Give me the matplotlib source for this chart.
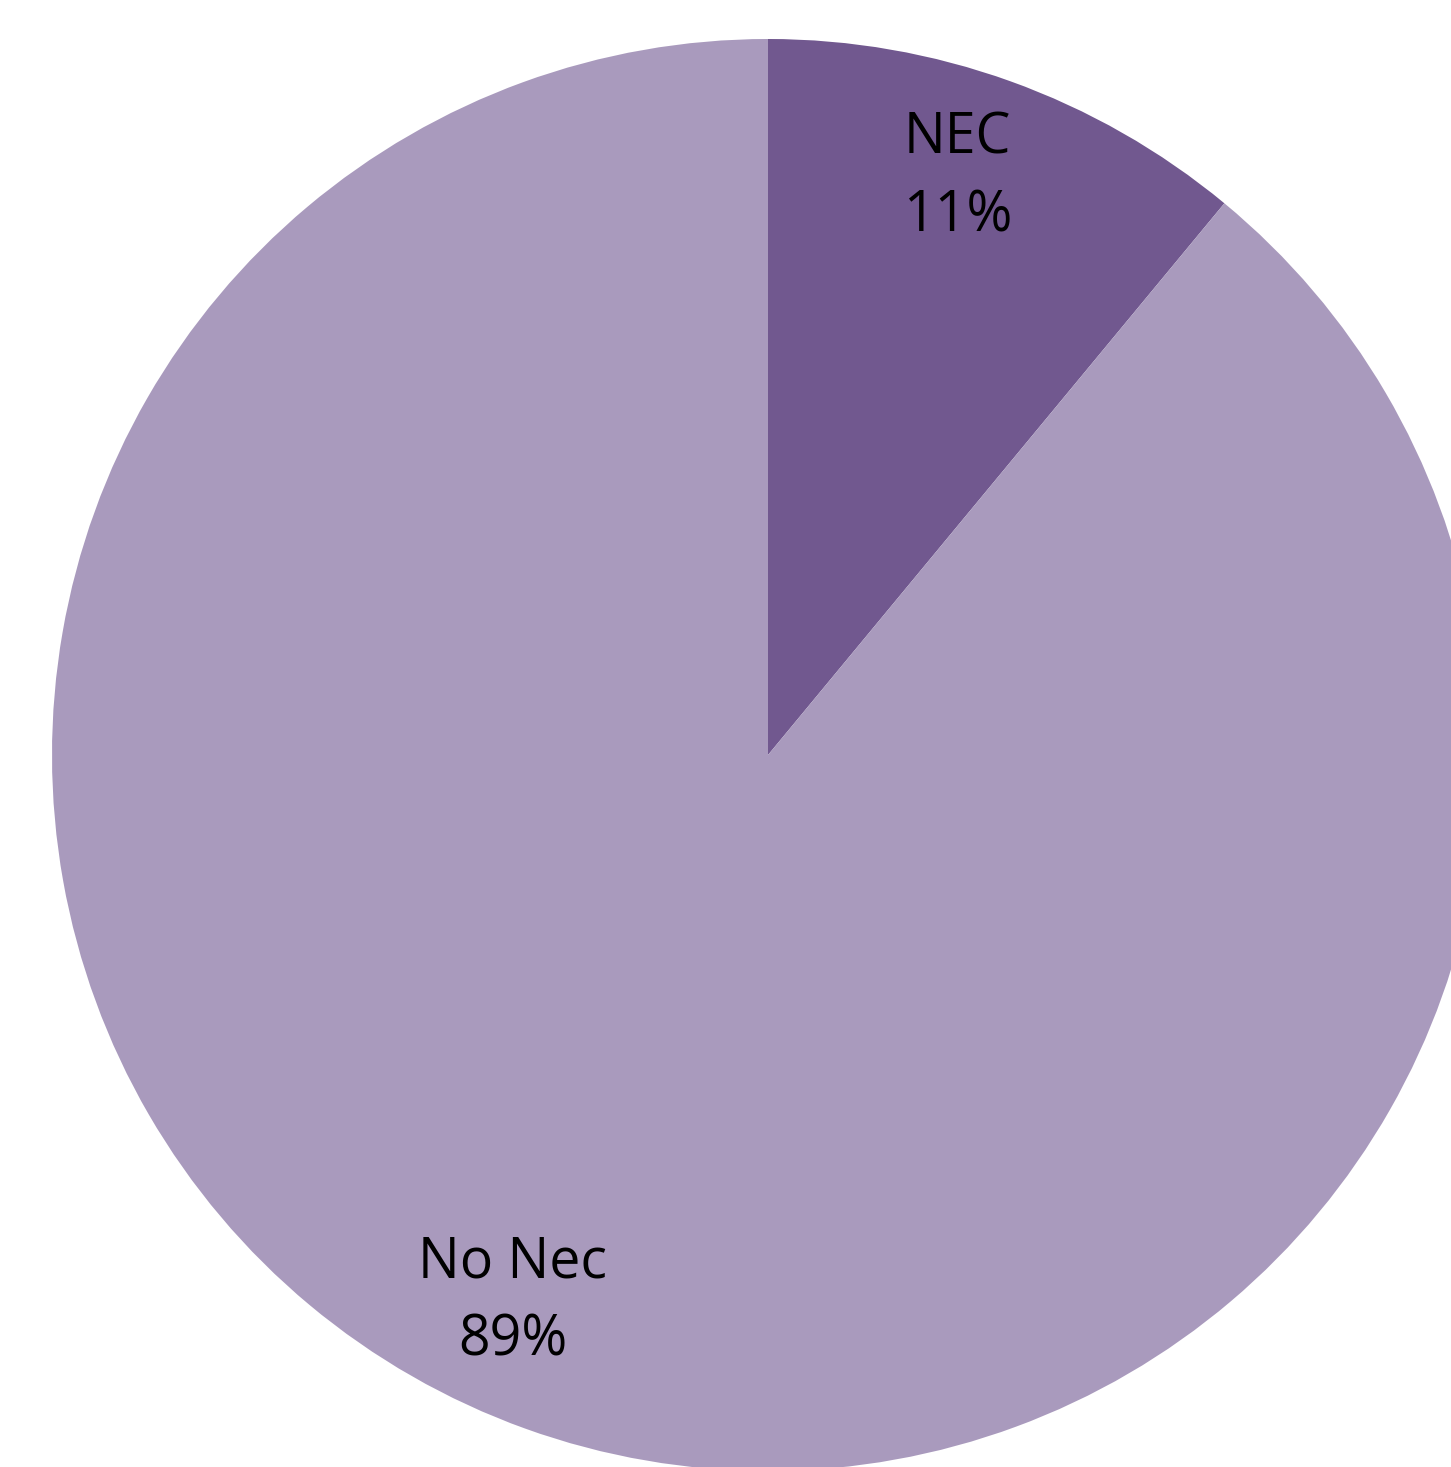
import numpy as np
import matplotlib.pyplot as plt

# Data
labels = ['NEC', 'No Nec']
values = [11, 89]
colors = ['#71588F', '#A99ABD']
# label placement tweaks (degrees offset from slice middle, radial distance)
label_shift = [1.6, -5.2]
label_dist = [0.848, 0.843]

W, H = 1451, 1467
cx, cy, R = 768, 755, 716

fig = plt.figure(figsize=(W / 100, H / 100), dpi=100)
ax = fig.add_axes([0, 0, 1, 1])

wedges, texts = ax.pie(values, colors=colors, startangle=90, counterclock=False,
                       radius=1.0, labels=[f'{l}\n{v}%' for l, v in zip(labels, values)],
                       labeldistance=0.845,
                       textprops=dict(fontsize=40, family=['Open Sans', 'DejaVu Sans'],
                                      color='black', linespacing=1.5))
for w, t, s, d in zip(wedges, texts, label_shift, label_dist):
    ang = np.deg2rad((w.theta1 + w.theta2) / 2 + s)
    t.set_position((d * np.cos(ang), d * np.sin(ang)))
    t.set_ha('center')
    t.set_va('center')

ax.set_xlim(-cx / R, (W - cx) / R)
ax.set_ylim(-(H - cy) / R, cy / R)
ax.set_aspect('equal', adjustable='datalim')
ax.axis('off')

fig.savefig('out.png', dpi=100)
